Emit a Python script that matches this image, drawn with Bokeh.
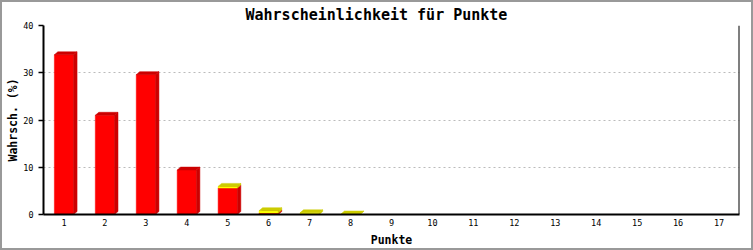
from bokeh.plotting import figure
from bokeh.models import ColumnDataSource, FixedTicker, Span, Range1d
from bokeh.embed import file_html
from bokeh.resources import INLINE

# ---- data ----
punkte = list(range(1, 18))
tick_labels = [str(v) for v in punkte]
rot = [33.8, 21.0, 29.6, 9.4, 5.6, 0.3, 0, 0, 0, 0, 0, 0, 0, 0, 0, 0, 0]
gelb = [0, 0, 0, 0, 0.35, 0.5, 0.35, 0.1, 0, 0, 0, 0, 0, 0, 0, 0, 0]
y_ticks = [0, 10, 20, 30, 40]

# ---- layout ----
# canvas is drawn inside a 2px css border (shifted by 2px, clipped at right/bottom)
W, H = 753, 250
ML, MR, MT, MB = 41, 16, 23, 38
X0, X1 = 0.5, 17.5
Y0, Y1 = 0, 40
frame_w = W - ML - MR
frame_h = H - MT - MB
px_x = frame_w / (X1 - X0)
px_y = frame_h / (Y1 - Y0)
hw = 9.6 / px_x          # half width of bar front
dx = 3.5 / px_x          # 3D depth x
dy = 3.0 / px_y          # 3D depth y

MONO = "DejaVu Sans Mono"

p = figure(width=W, height=H, output_backend="svg", toolbar_location=None,
           x_range=Range1d(X0, X1), y_range=Range1d(Y0, Y1),
           min_border_left=ML, min_border_right=MR,
           min_border_top=MT, min_border_bottom=MB)
p.styles = {"border": "2px solid #999999"}

p.title.text = "Wahrscheinlichkeit für Punkte"
p.title.align = "left"
p.title.offset = 202
p.title.text_font = MONO
p.title.text_font_size = "15px"
p.title.text_font_style = "bold"
p.title.text_color = "black"
p.title.standoff = 3

p.outline_line_color = None
p.background_fill_color = "white"
p.border_fill_color = "white"

# axes
p.xaxis.ticker = FixedTicker(ticks=punkte)
p.xaxis.major_label_overrides = {v: s for v, s in zip(punkte, tick_labels)}
p.yaxis.ticker = FixedTicker(ticks=y_ticks)
for ax in (p.xaxis[0], p.yaxis[0]):
    ax.axis_line_color = "black"
    ax.axis_line_width = 2
    ax.major_label_text_font = MONO
    ax.major_label_text_font_size = "8.5px"
    ax.major_label_text_color = "black"
    ax.minor_tick_line_color = None
    ax.axis_label_text_font = MONO
    ax.axis_label_text_font_style = "bold"
    ax.axis_label_text_font_size = "11.5px"
    ax.axis_label_text_color = "black"
p.xaxis.major_tick_line_color = None
p.xaxis.major_label_standoff = -2
p.xaxis.axis_label = "Punkte"
p.xaxis.axis_label_standoff = 4
p.yaxis.major_tick_line_color = "black"
p.yaxis.major_tick_line_width = 1.5
p.yaxis.major_tick_out = 5
p.yaxis.major_tick_in = 0
p.yaxis.major_label_standoff = 5
p.yaxis.axis_label = "Wahrsch. (%)"
p.yaxis.axis_label_standoff = 0

p.xgrid.grid_line_color = None
p.ygrid.ticker = FixedTicker(ticks=y_ticks[1:])
p.ygrid.grid_line_color = "#bbbbbb"
p.ygrid.grid_line_dash = "2 3"
p.ygrid.grid_line_width = 1

# 3D stacked bars
xs, ys, cols = [], [], []
series = [(rot, "#ff0000", "#cc0000"), (gelb, "#ffff00", "#cccc00")]
for i, x in enumerate(punkte):
    base = 0.0
    for vals, front, dark in series:
        v = vals[i]
        if v <= 0:
            continue
        b, t = base, base + v
        l, r = x - hw, x + hw
        # front
        xs.append([l, r, r, l]); ys.append([b, b, t, t]); cols.append(front)
        # side
        xs.append([r, r + dx, r + dx, r]); ys.append([b, b + dy, t + dy, t]); cols.append(dark)
        # top
        xs.append([l, l + dx, r + dx, r]); ys.append([t, t + dy, t + dy, t]); cols.append(dark)
        base = t

src = ColumnDataSource(dict(xs=xs, ys=ys, c=cols))
p.patches("xs", "ys", source=src, fill_color="c", line_color="c", line_width=0.5)

# right border of plot area
p.add_layout(Span(location=X1, dimension="height", line_color="black", line_width=2))

open("out.html", "w").write(file_html(p, INLINE))
